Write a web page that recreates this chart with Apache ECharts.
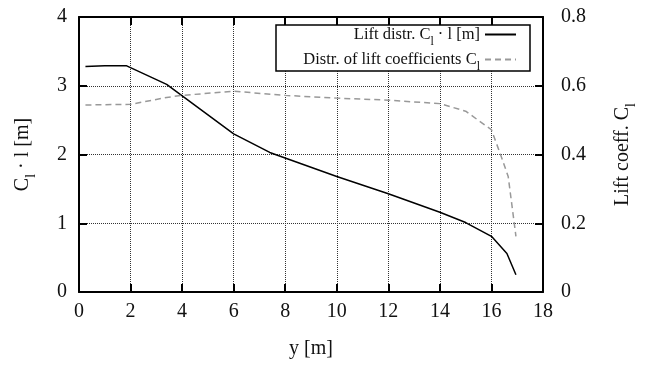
<!DOCTYPE html>
<html><head><meta charset="utf-8">
<script src="https://cdn.jsdelivr.net/npm/echarts@6/dist/echarts.min.js"></script>
<style>html,body{margin:0;padding:0;background:#fff}#c{width:646px;height:366px}</style>
</head><body><div id="c"></div>
<script>
var liftDistr = [[0.25,3.28],[1,3.29],[1.85,3.29],[3.4,3.02],[6,2.30],[7.4,2.03],[10,1.68],[12,1.43],[14,1.16],[15,1.01],[16,0.81],[16.6,0.56],[16.95,0.25]];
var liftCoeff = [[0.25,0.544],[2,0.546],[3.4,0.566],[4,0.572],[6,0.584],[8,0.572],[10,0.564],[12,0.558],[14,0.548],[15,0.526],[16,0.472],[16.4,0.39],[16.65,0.336],[16.95,0.162]];
var xTicks = [0,2,4,6,8,10,12,14,16,18];
var leftTicks = [0,1,2,3,4];
var rightTicks = [0,0.2,0.4,0.6,0.8];
var nameA = 'Lift distr. C_l · l [m]';
var nameB = 'Distr. of lift coefficients C_l';

var FONT = 'Liberation Serif';
function sub(s){ return s.replace(/C_l/g, 'C{s|l}'); }
var richBase = {s:{fontFamily:FONT,fontSize:12,color:'#111',verticalAlign:'bottom',padding:[0,0,-5,0]}};
var richBig = {s:{fontFamily:FONT,fontSize:14,color:'#111',verticalAlign:'bottom',padding:[0,0,-5,0]}};

var chart = echarts.init(document.getElementById('c'));
var axisLine = {show:true,onZero:false,lineStyle:{color:'#000',width:2}};
var tick = {show:true,inside:true,length:8,lineStyle:{color:'#000',width:2}};
var lbl = {fontFamily:FONT,fontSize:20,color:'#111'};
var grid = {show:true,lineStyle:{type:'dotted',color:'#333',width:1}};
var legendCommon = {orient:'vertical',right:129,align:'right',itemWidth:31,itemHeight:14,padding:0,
    itemStyle:{opacity:0},
    formatter:function(n){return sub(n);},
    textStyle:{fontFamily:FONT,fontSize:16.5,color:'#111',rich:richBase},z:10};
chart.setOption({
  animation:false,
  grid:{left:79,top:17,right:103,bottom:74,containLabel:false},
  xAxis:[{
    type:'value',min:xTicks[0],max:xTicks[xTicks.length-1],interval:2,
    axisLine:axisLine,axisTick:tick,
    axisLabel:Object.assign({margin:10},lbl),
    splitLine:grid,
    name:'y [m]',nameLocation:'middle',nameGap:47,
    nameTextStyle:{fontFamily:FONT,fontSize:20,color:'#111'}
  },{
    type:'value',position:'top',min:xTicks[0],max:xTicks[xTicks.length-1],interval:2,
    axisLine:axisLine,axisTick:tick,axisLabel:{show:false},splitLine:{show:false}
  }],
  yAxis:[{
    type:'value',min:leftTicks[0],max:leftTicks[leftTicks.length-1],interval:1,
    axisLine:axisLine,axisTick:tick,
    axisLabel:Object.assign({margin:12},lbl),
    splitLine:grid,
    name:'C{s|l} · l [m]',nameLocation:'middle',nameGap:46,nameRotate:90,
    nameTextStyle:{fontFamily:FONT,fontSize:20,color:'#111',rich:richBig}
  },{
    type:'value',position:'right',min:rightTicks[0],max:rightTicks[rightTicks.length-1],interval:0.2,
    axisLine:axisLine,axisTick:tick,
    axisLabel:Object.assign({margin:18,formatter:function(v){return v===0?'0':v.toFixed(1);}},lbl),
    splitLine:{show:false},
    name:'Lift coeff. C{s|l}',nameLocation:'middle',nameGap:70,nameRotate:90,
    nameTextStyle:{fontFamily:FONT,fontSize:20,color:'#111',rich:richBig}
  }],
  graphic:[{type:'rect',shape:{x:276,y:25,width:254,height:46},
    style:{fill:'#fff',stroke:'#000',lineWidth:1.5},z:5}],
  legend:[
    Object.assign({data:[nameA],top:26},legendCommon),
    Object.assign({data:[nameB],top:51},legendCommon)
  ],
  series:[{
    name:nameA,type:'line',xAxisIndex:0,yAxisIndex:0,data:liftDistr,
    symbol:'none',showSymbol:false,lineStyle:{color:'#000',width:1.5},itemStyle:{color:'#000'},z:3
  },{
    name:nameB,type:'line',xAxisIndex:0,yAxisIndex:1,data:liftCoeff,
    symbol:'none',showSymbol:false,lineStyle:{color:'#999',width:1.5,type:[6,4]},itemStyle:{color:'#999'},z:3
  }]
});
</script></body></html>
